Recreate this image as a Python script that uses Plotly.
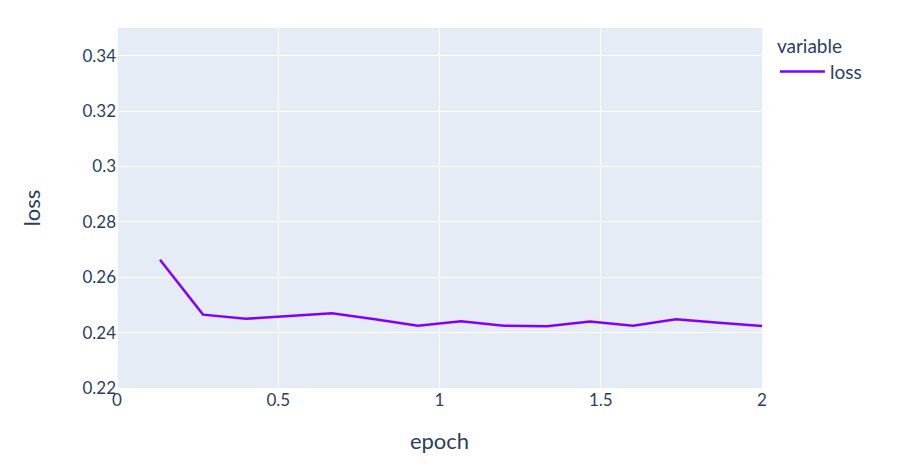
import plotly.graph_objects as go

epoch = [2/15, 4/15, 6/15, 8/15, 10/15, 12/15, 14/15, 16/15, 18/15, 20/15,
         22/15, 24/15, 26/15, 28/15, 2.0]
loss = [0.2663, 0.2465, 0.2450, 0.2460, 0.2470, 0.2448, 0.2425, 0.2441,
        0.2425, 0.2423, 0.2440, 0.2425, 0.2448, 0.2436, 0.2424]

FAM = "Lato, Noto Sans, sans-serif"
fig = go.Figure()
fig.add_trace(go.Scatter(x=epoch, y=loss, mode="lines", name="loss",
                         line=dict(color="#8000ff", width=2.5)))
fig.update_layout(
    width=905, height=472,
    template="plotly",
    font=dict(family=FAM, size=17, color="#2a3f5f"),
    margin=dict(l=109, r=151, t=20, b=92, autoexpand=False),
    legend=dict(title=dict(text="variable",
                           font=dict(family=FAM, size=19, color="#2a3f5f")),
                font=dict(family=FAM, size=19, color="#2a3f5f"), itemwidth=45),
    showlegend=True,
)
fig.update_xaxes(title_text="epoch", range=[0, 2], dtick=0.5,
                 title_font_size=22, title_standoff=24)
fig.update_yaxes(title_text="loss", range=[0.22, 0.35], dtick=0.02,
                 title_font_size=22, title_standoff=35)
fig.write_html("out.html")
